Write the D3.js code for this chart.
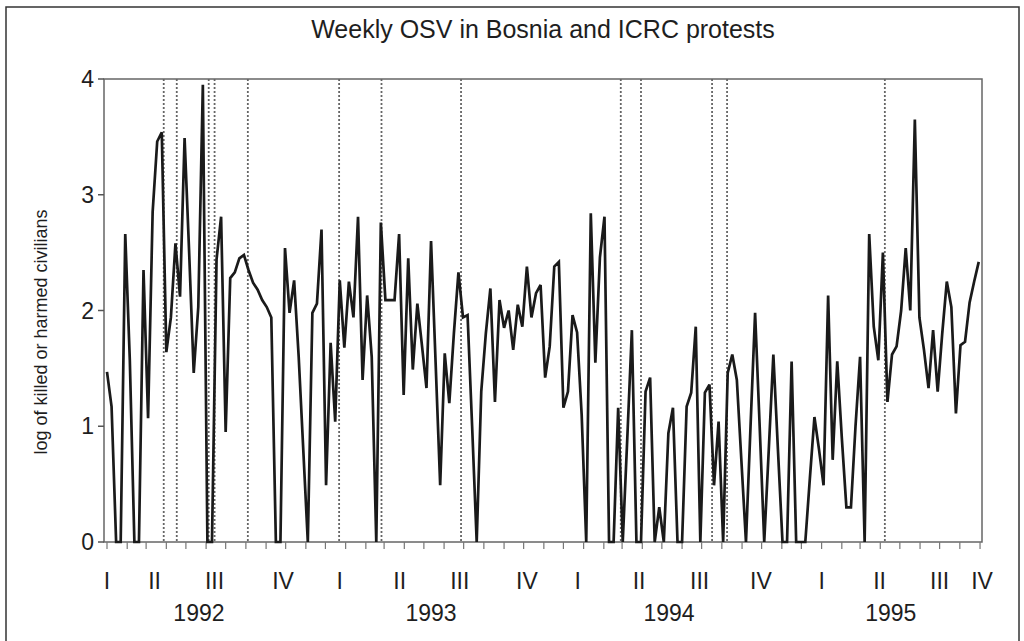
<!DOCTYPE html>
<html>
<head>
<meta charset="utf-8">
<script src="https://cdn.jsdelivr.net/npm/d3@7"></script>
<style>
body { margin: 0; background: #fff; }
text { font-family: "Liberation Sans", Arial, sans-serif; fill: #1e1e1e; }
</style>
</head>
<body>
<svg id="chart" width="1024" height="641"></svg>
<script>
// weekly series, first week starting 1992-01-01
var startDate = "1992-01-01";
var endDate = "1995-09-04";
var weeklyOSV = [
	1.47,1.17,0,0,2.66,1.57,0,0,2.35,1.07,
	2.85,3.46,3.54,1.64,1.94,2.58,2.12,3.49,2.5,1.46,
	2.03,3.95,0,0,2.44,2.81,0.95,2.28,2.33,2.45,
	2.48,2.35,2.24,2.18,2.09,2.03,1.94,0,0,2.54,
	1.98,2.26,1.6,0.8,0,1.98,2.06,2.7,0.49,1.72,
	1.04,2.26,1.68,2.25,1.94,2.81,1.4,2.13,1.6,0,
	2.76,2.09,2.09,2.09,2.66,1.27,2.45,1.49,2.06,1.7,
	1.33,2.6,1.55,0.49,1.63,1.2,1.8,2.33,1.94,1.96,
	1.0,0,1.3,1.8,2.19,1.21,2.09,1.85,2.0,1.66,
	2.05,1.86,2.38,1.94,2.15,2.22,1.42,1.69,2.38,2.42,
	1.16,1.3,1.96,1.81,1.1,0,2.84,1.55,2.46,2.81,
	0,0,1.16,0,0.9,1.83,0,0,1.3,1.42,
	0,0.3,0,0.94,1.16,0,0,1.17,1.29,1.86,
	0,1.29,1.36,0.49,1.04,0,1.46,1.62,1.4,0.7,
	0,1.0,1.98,1.0,0,0.8,1.62,0.8,0,0,
	1.56,0,0,0,0.55,1.08,0.8,0.49,2.13,0.71,
	1.56,0.9,0.3,0.3,1.0,1.6,0,2.66,1.86,1.57,
	2.5,1.21,1.62,1.69,2.0,2.54,2.0,3.65,1.94,1.66,
	1.33,1.83,1.3,1.8,2.25,2.03,1.11,1.7,1.73,2.07,
	2.25,2.42
];

// ICRC protests (dotted lines)
var protestDates = ["1992-03-28","1992-04-17","1992-06-05","1992-06-14","1992-08-04",
	"1992-12-22","1993-02-25","1993-06-27","1994-02-27","1994-03-30",
	"1994-07-17","1994-08-09","1995-04-08"];

var quarterLabels = ["I","II","III","IV","I","II","III","IV","I","II","III","IV","I","II","III","IV"];
var quarterDates = ["1992-01-01","1992-03-14","1992-06-14","1992-09-27",
	"1992-12-23","1993-03-25","1993-06-25","1993-10-06",
	"1993-12-23","1994-03-27","1994-06-28","1994-09-30",
	"1995-01-01","1995-03-31","1995-07-01","1995-09-04"];

var yearLabels = ["1992","1993","1994","1995"];
var yearDates = ["1992-05-21","1993-05-12","1994-05-12","1995-04-17"];

var yTicks = [0,1,2,3,4];

var parse = d3.timeParse("%Y-%m-%d");
var start = parse(startDate);
var data = weeklyOSV.map(function(v, i){ return {date: d3.timeDay.offset(start, 7*i), value: v}; });

var svg = d3.select("#chart");
var plotLeft = 107, plotRight = 982, plotTop = 79, plotBottom = 542;

var x = d3.scaleTime().domain([start, parse(endDate)]).range([plotLeft, plotRight]);
var y = d3.scaleLinear().domain([0, 4]).range([plotBottom, plotTop]);

// outer frame
svg.append("rect")
	.attr("x", 6).attr("y", 7).attr("width", 1013).attr("height", 645)
	.attr("fill", "none").attr("stroke", "#333").attr("stroke-width", 1.5);

// title
svg.append("text")
	.attr("x", 543).attr("y", 38)
	.attr("text-anchor", "middle")
	.style("font-size", "25px")
	.text("Weekly OSV in Bosnia and ICRC protests");

// plot box
svg.append("rect")
	.attr("x", plotLeft - 3).attr("y", plotTop)
	.attr("width", plotRight - plotLeft + 3).attr("height", plotBottom - plotTop)
	.attr("fill", "none").attr("stroke", "#666").attr("stroke-width", 1.5);

// y axis ticks
svg.selectAll(".ytick").data(yTicks).enter().append("line")
	.attr("x1", plotLeft - 9).attr("x2", plotLeft - 3)
	.attr("y1", function(d){return y(d);}).attr("y2", function(d){return y(d);})
	.attr("stroke", "#555").attr("stroke-width", 1.5);

svg.selectAll(".ylab").data(yTicks).enter().append("text")
	.attr("x", plotLeft - 13)
	.attr("y", function(d){return y(d) + 8;})
	.attr("text-anchor", "end")
	.style("font-size", "23px")
	.text(function(d){return d;});

svg.append("text")
	.attr("transform", "translate(47,332) rotate(-90)")
	.attr("text-anchor", "middle")
	.style("font-size", "18px")
	.text("log of killed or harmed civilians");

// monthly ticks
svg.selectAll(".xtick").data(x.ticks(d3.timeMonth.every(1))).enter().append("line")
	.attr("x1", function(d){return x(d);}).attr("x2", function(d){return x(d);})
	.attr("y1", plotBottom).attr("y2", plotBottom + 7)
	.attr("stroke", "#777").attr("stroke-width", 1.2);

// quarter and year labels
svg.selectAll(".qlab").data(quarterLabels).enter().append("text")
	.attr("x", function(d, i){return x(parse(quarterDates[i]));})
	.attr("y", 589)
	.attr("text-anchor", "middle")
	.style("font-size", "23px")
	.text(function(d){return d;});

svg.selectAll(".yrlab").data(yearLabels).enter().append("text")
	.attr("x", function(d, i){return x(parse(yearDates[i]));})
	.attr("y", 621)
	.attr("text-anchor", "middle")
	.style("font-size", "23px")
	.text(function(d){return d;});

// protest lines
svg.selectAll(".protest").data(protestDates).enter().append("line")
	.attr("x1", function(d){return x(parse(d));}).attr("x2", function(d){return x(parse(d));})
	.attr("y1", plotTop).attr("y2", plotBottom)
	.attr("stroke", "#666").attr("stroke-width", 1.8)
	.attr("stroke-dasharray", "2,2");

// OSV line
var line = d3.line()
	.x(function(d){return x(d.date);})
	.y(function(d){return y(d.value);});

svg.append("path")
	.datum(data)
	.attr("d", line)
	.attr("fill", "none")
	.attr("stroke", "#1a1a1a")
	.attr("stroke-width", 2.7)
	.attr("stroke-linejoin", "miter")
	.attr("stroke-miterlimit", 3);
</script>
</body>
</html>
